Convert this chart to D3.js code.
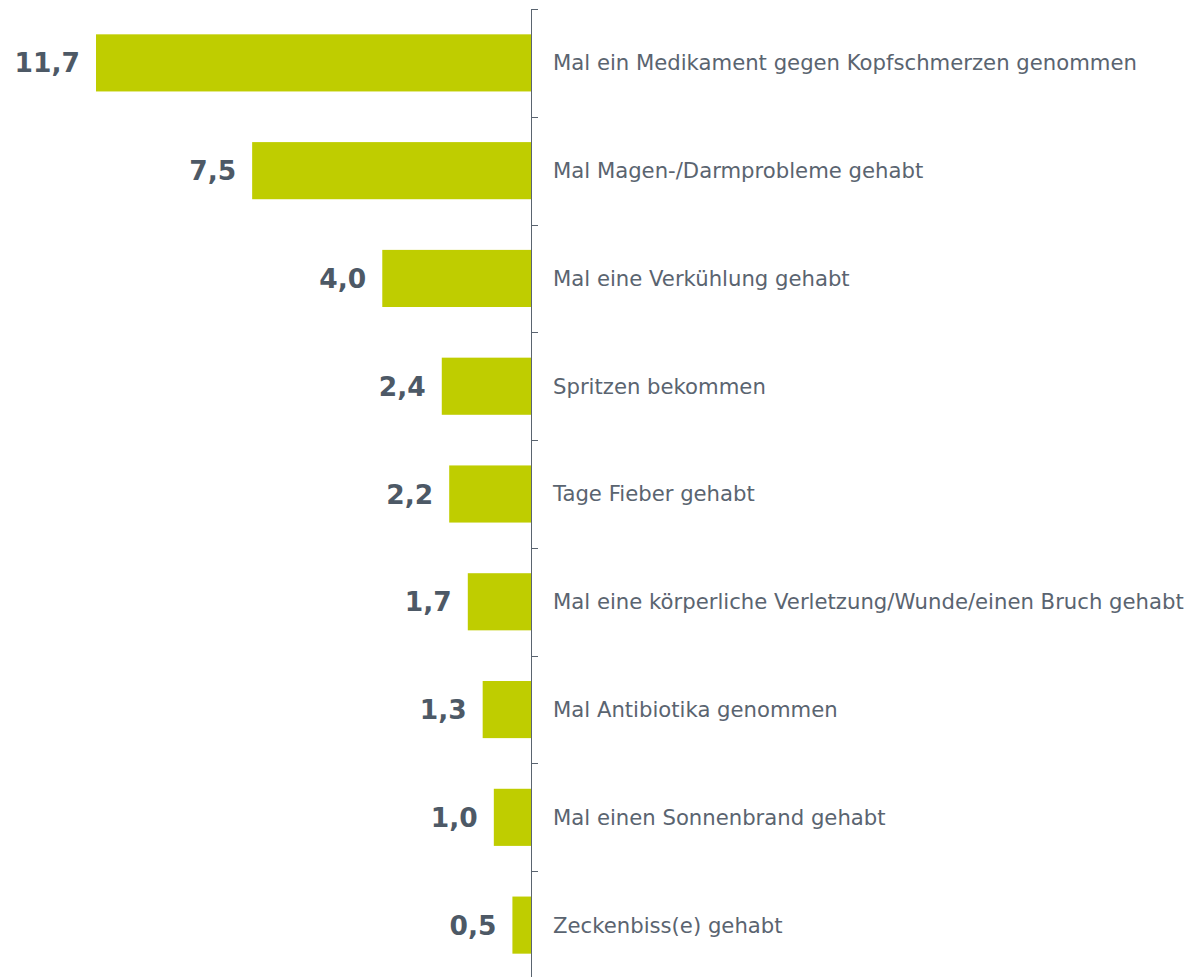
<!DOCTYPE html>
<html>
<head>
<meta charset="utf-8">
<script src="https://cdn.jsdelivr.net/npm/d3@7"></script>
<style>
  body { margin: 0; background: #fff; }
</style>
</head>
<body>
<div id="chart"></div>
<script>
const categories = [
  "Mal ein Medikament gegen Kopfschmerzen genommen",
  "Mal Magen-/Darmprobleme gehabt",
  "Mal eine Verkühlung gehabt",
  "Spritzen bekommen",
  "Tage Fieber gehabt",
  "Mal eine körperliche Verletzung/Wunde/einen Bruch gehabt",
  "Mal Antibiotika genommen",
  "Mal einen Sonnenbrand gehabt",
  "Zeckenbiss(e) gehabt"
];
const values = [11.7, 7.5, 4.0, 2.4, 2.2, 1.7, 1.3, 1.0, 0.5];

const width = 1204;
const height = 977;
const axisX = 531;

const svg = d3.select("#chart")
  .append("svg")
  .attr("width", width)
  .attr("height", height);

const data = categories.map((c, i) => ({ label: c, value: values[i] }));

// bars grow to the left of the axis
const x = d3.scaleLinear()
  .domain([0, 11.7])
  .range([axisX, 96]);

const y = d3.scaleBand()
  .domain(categories)
  .range([9, 979])
  .paddingInner(0.47)
  .paddingOuter(0.235);

svg.selectAll(".bar")
  .data(data)
  .enter()
  .append("rect")
  .attr("class", "bar")
  .attr("x", d => x(d.value))
  .attr("width", d => axisX - x(d.value))
  .attr("y", d => y(d.label))
  .attr("height", y.bandwidth())
  .style("fill", "#bfcd00");

// axis line with ticks pointing right
const step = y.step();
const ticks = d3.range(categories.length).map(i => 9 + i * step);
svg.append("line")
  .attr("x1", axisX + 0.5).attr("x2", axisX + 0.5)
  .attr("y1", 9).attr("y2", height)
  .attr("stroke", "#5a6470").attr("stroke-width", 1);
svg.selectAll(".tick")
  .data(ticks)
  .enter()
  .append("line")
  .attr("class", "tick")
  .attr("x1", axisX).attr("x2", axisX + 7)
  .attr("y1", d => Math.round(d) + 0.5).attr("y2", d => Math.round(d) + 0.5)
  .attr("stroke", "#5a6470");

// category names right of the axis
svg.selectAll(".cat-label")
  .data(data)
  .enter()
  .append("text")
  .attr("class", "cat-label")
  .attr("x", 553)
  .attr("y", d => y(d.label) + y.bandwidth() / 2)
  .attr("dy", "0.35em")
  .attr("font-family", "DejaVu Sans, Verdana, sans-serif")
  .attr("font-size", "21.2px")
  .attr("fill", "#5a6470")
  .text(d => d.label);

// values left of each bar
const fmt = v => d3.format(".1f")(v).replace(".", ",");
svg.selectAll(".val-label")
  .data(data)
  .enter()
  .append("text")
  .attr("class", "val-label")
  .attr("x", d => x(d.value) - 16)
  .attr("y", d => y(d.label) + y.bandwidth() / 2)
  .attr("dy", "0.36em")
  .attr("text-anchor", "end")
  .attr("font-family", "DejaVu Sans, Verdana, sans-serif")
  .attr("font-weight", "bold")
  .attr("font-size", "26.5px")
  .attr("fill", "#4d5966")
  .text(d => fmt(d.value));
</script>
</body>
</html>
